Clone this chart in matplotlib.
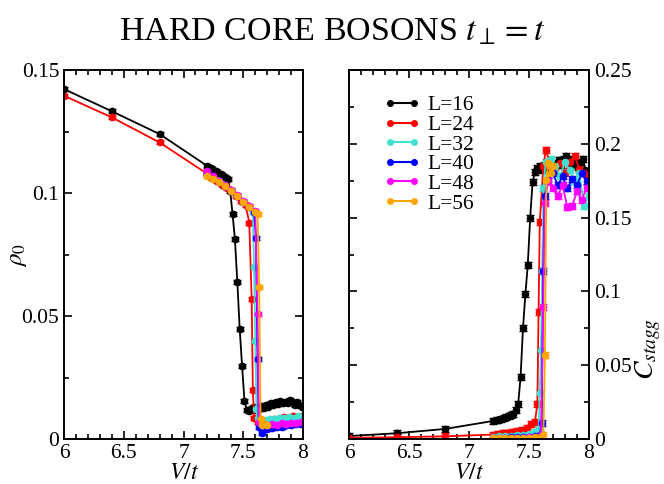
import matplotlib
matplotlib.use("Agg")
import matplotlib.pyplot as plt
from matplotlib.ticker import MultipleLocator
from matplotlib.lines import Line2D

plt.rcParams['font.family'] = ['Liberation Serif', 'DejaVu Serif']
plt.rcParams['mathtext.fontset'] = 'stix'

# condensate density rho_0 and staggered correlation C_stagg vs V/t
V16 = [6.0, 6.4, 6.8, 7.2, 7.23, 7.25, 7.27, 7.29, 7.31, 7.33, 7.35, 7.37, 7.39,
       7.41, 7.43, 7.45, 7.47, 7.49, 7.51, 7.53, 7.55, 7.57, 7.59, 7.61, 7.63,
       7.65, 7.67, 7.69, 7.71, 7.73, 7.75, 7.77, 7.79, 7.81, 7.83, 7.85, 7.87,
       7.89, 7.91, 7.93, 7.95, 7.97, 7.99]
rho16 = [0.1423, 0.1333, 0.1240, 0.1110, 0.1102, 0.1096, 0.1090, 0.1083, 0.1077,
         0.1071, 0.1066, 0.1058, 0.1010, 0.0915, 0.0813, 0.0640, 0.0447, 0.0296,
         0.0154, 0.0118, 0.0112, 0.0125, 0.0130, 0.0118, 0.0122, 0.0135, 0.0128,
         0.0140, 0.0132, 0.0145, 0.0138, 0.0150, 0.0142, 0.0155, 0.0148, 0.0152,
         0.0145, 0.0158, 0.0150, 0.0140, 0.0152, 0.0138, 0.0132]
C16 = [0.0020, 0.0039, 0.0068, 0.0122, 0.0128, 0.0132, 0.0137, 0.0142, 0.0148,
       0.0153, 0.0160, 0.0170, 0.0195, 0.0237, 0.0420, 0.0750, 0.0980, 0.1180,
       0.1500, 0.1740, 0.1810, 0.1840, 0.1850, 0.1820, 0.1860, 0.1840, 0.1880,
       0.1850, 0.1830, 0.1870, 0.1890, 0.1860, 0.1900, 0.1920, 0.1880, 0.1860,
       0.1900, 0.1870, 0.1840, 0.1880, 0.1900, 0.1820, 0.1760]

V24 = [6.0, 6.4, 6.8, 7.2, 7.24, 7.28, 7.32, 7.36, 7.40, 7.44, 7.48, 7.52, 7.55,
       7.57, 7.58, 7.59, 7.62, 7.64, 7.68, 7.72, 7.76, 7.80, 7.84, 7.88, 7.92,
       7.96, 8.0]
rho24 = [0.1396, 0.1308, 0.1206, 0.1078, 0.1062, 0.1048, 0.1035, 0.1022, 0.1010,
         0.0990, 0.0968, 0.0950, 0.0880, 0.0570, 0.0200, 0.0085, 0.0068, 0.0072,
         0.0070, 0.0078, 0.0082, 0.0080, 0.0088, 0.0085, 0.0092, 0.0090, 0.0095]
C24 = [0.0008, 0.0012, 0.0018, 0.0030, 0.0034, 0.0038, 0.0042, 0.0047, 0.0055,
       0.0062, 0.0075, 0.0100, 0.0117, 0.0240, 0.0860, 0.1470, 0.1850, 0.1958,
       0.1860, 0.1820, 0.1870, 0.1800, 0.1880, 0.1920, 0.1830, 0.1800, 0.1790]

V32 = [7.2, 7.25, 7.3, 7.35, 7.4, 7.45, 7.5, 7.55, 7.58, 7.59, 7.60, 7.61, 7.62,
       7.64, 7.68, 7.72, 7.76, 7.80, 7.84, 7.88, 7.92, 7.96, 8.0]
rho32 = [0.1085, 0.1066, 0.1048, 0.1030, 0.1012, 0.0990, 0.0965, 0.0945, 0.0925,
         0.0700, 0.0400, 0.0120, 0.0085, 0.0080, 0.0078, 0.0083, 0.0080, 0.0086,
         0.0084, 0.0090, 0.0087, 0.0092, 0.0090]
C32 = [0.0015, 0.0018, 0.0020, 0.0023, 0.0026, 0.0030, 0.0035, 0.0045, 0.0060,
       0.0310, 0.0600, 0.1140, 0.1700, 0.1880, 0.1900, 0.1850, 0.1780, 0.1880,
       0.1820, 0.1750, 0.1800, 0.1580, 0.1650]

V40 = [7.2, 7.25, 7.3, 7.35, 7.4, 7.45, 7.5, 7.55, 7.59, 7.606, 7.619, 7.63,
       7.66, 7.70, 7.74, 7.78, 7.82, 7.86, 7.90, 7.94, 7.98]
rho40 = [0.1080, 0.1062, 0.1045, 0.1028, 0.1010, 0.0988, 0.0962, 0.0942, 0.0925,
         0.0818, 0.0325, 0.0050, 0.0024, 0.0040, 0.0045, 0.0050, 0.0048, 0.0055,
         0.0058, 0.0060, 0.0062]
C40 = [0.0008, 0.0009, 0.0010, 0.0011, 0.0012, 0.0014, 0.0016, 0.0020, 0.0030,
       0.0106, 0.1140, 0.1650, 0.1750, 0.1800, 0.1720, 0.1780, 0.1700, 0.1760,
       0.1720, 0.1800, 0.1750]

V48 = [7.2, 7.25, 7.3, 7.35, 7.4, 7.45, 7.5, 7.55, 7.6, 7.619, 7.63, 7.66, 7.70,
       7.74, 7.78, 7.82, 7.86, 7.90, 7.94, 7.98]
rho48 = [0.1088, 0.1068, 0.1050, 0.1032, 0.1014, 0.0992, 0.0968, 0.0948, 0.0928,
         0.0507, 0.0070, 0.0060, 0.0055, 0.0062, 0.0058, 0.0065, 0.0060, 0.0066,
         0.0063, 0.0068]
C48 = [0.0005, 0.0006, 0.0007, 0.0008, 0.0009, 0.0010, 0.0012, 0.0015, 0.0025,
       0.0896, 0.1600, 0.1750, 0.1700, 0.1650, 0.1720, 0.1570, 0.1580, 0.1680,
       0.1620, 0.1700]

V56 = [7.2, 7.25, 7.3, 7.35, 7.4, 7.45, 7.5, 7.55, 7.6, 7.62, 7.633, 7.645,
       7.66, 7.68, 7.70]
rho56 = [0.1070, 0.1058, 0.1045, 0.1028, 0.1010, 0.0988, 0.0963, 0.0943, 0.0925,
         0.0915, 0.0620, 0.0080, 0.0057, 0.0060, 0.0058]
C56 = [0.0005, 0.0005, 0.0006, 0.0006, 0.0007, 0.0008, 0.0010, 0.0012, 0.0015,
       0.0030, 0.0569, 0.1755, 0.1870, 0.1800, 0.1850]

sizes = ['L=16', 'L=24', 'L=32', 'L=40', 'L=48', 'L=56']
colors = ['black', 'red', 'turquoise', 'blue', 'magenta', 'orange']
err_rho = 0.0008
err_C = 0.002

series = [(V16, rho16, C16), (V24, rho24, C24), (V32, rho32, C32),
          (V40, rho40, C40), (V48, rho48, C48), (V56, rho56, C56)]

fig = plt.figure(figsize=(6.64, 4.84), dpi=100)
ax1 = fig.add_axes([0.0964, 0.093, 0.360, 0.762])
ax2 = fig.add_axes([0.5256, 0.093, 0.3614, 0.762])

for (v, rho, c), col in zip(series, colors):
    ax1.errorbar(v, rho, yerr=err_rho, color=col, marker='o', ms=4.5, lw=1.3,
                 elinewidth=1, capsize=3)
    ax2.errorbar(v, c, yerr=err_C, color=col, marker='o', ms=4.5, lw=1.3,
                 elinewidth=1, capsize=3)

for ax in (ax1, ax2):
    ax.set_xlim(6, 8)
    ax.xaxis.set_major_locator(MultipleLocator(0.5))
    ax.xaxis.set_minor_locator(MultipleLocator(0.1))
    ax.tick_params(which='both', direction='in', top=True, right=True,
                   left=True, width=1.2, labelsize=15.5)
    ax.tick_params(which='major', length=6)
    ax.tick_params(which='minor', length=3.5)
    ax.set_xticks([6, 6.5, 7, 7.5, 8])
    ax.set_xticklabels(['6', '6.5', '7', '7.5', '8'])
    for s in ax.spines.values():
        s.set_linewidth(1.4)
    ax.set_xlabel('$V/t$', fontsize=17, labelpad=0)

ax1.set_ylim(0, 0.15)
ax1.yaxis.set_minor_locator(MultipleLocator(0.025))
ax1.set_yticks([0, 0.05, 0.1, 0.15])
ax1.set_yticklabels(['0', '0.05', '0.1', '0.15'])
ax1.set_ylabel(r'$\rho_0$', fontsize=18)
ax1.yaxis.set_label_coords(-0.145, 0.5)

ax2.set_ylim(0, 0.25)
ax2.yaxis.set_minor_locator(MultipleLocator(0.025))
ax2.set_yticks([0, 0.05, 0.1, 0.15, 0.2, 0.25])
ax2.set_yticklabels(['0', '0.05', '0.1', '0.15', '0.2', '0.25'])
ax2.yaxis.tick_right()
ax2.tick_params(which='both', left=True, right=True)
ax2.yaxis.set_label_position('right')
ax2.set_ylabel(r'$C_{stagg}$', fontsize=20)
ax2.yaxis.set_label_coords(1.185, 0.245)

handles = [Line2D([], [], color=col, marker='o', ms=4, lw=1.5) for col in colors]
ax2.legend(handles, sizes, loc='upper left', bbox_to_anchor=(0.11, 0.955),
           frameon=False, fontsize=15.5, numpoints=2, handlelength=1.7,
           handletextpad=0.3, labelspacing=-0.02, borderaxespad=0)

fig.suptitle(r'HARD CORE BOSONS $t_{\perp} = t$', fontsize=24.5, y=0.965)

fig.savefig('out.png', dpi=100)
